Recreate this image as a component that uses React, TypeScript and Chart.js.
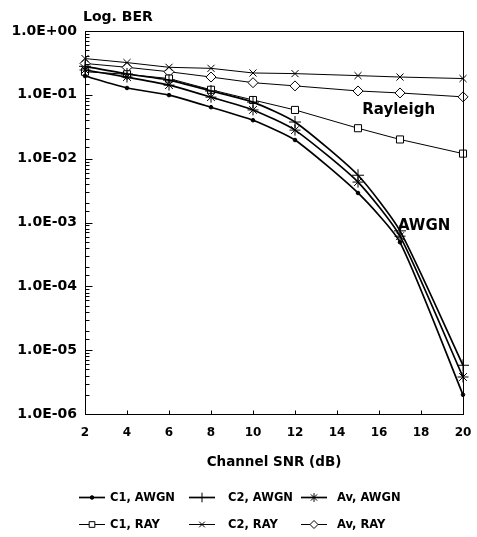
import React, { useEffect, useRef } from 'react';
import { Chart, registerables } from 'chart.js';
import { drawPoint } from 'chart.js/helpers';

Chart.register(...registerables);

// ---- data ----
const snr = [2, 4, 6, 8, 10, 12, 15, 17, 20];
const c1Awgn = [0.197, 0.128, 0.099, 0.064, 0.04, 0.0196, 0.0029, 0.00049, 0.000002];
const c2Awgn = [0.28, 0.212, 0.17, 0.115, 0.077, 0.0375, 0.0055, 0.00074, 0.0000058];
const avAwgn = [0.245, 0.19, 0.142, 0.092, 0.058, 0.028, 0.0043, 0.00061, 0.0000038];
const c1Ray = [0.23, 0.21, 0.18, 0.12, 0.083, 0.058, 0.03, 0.02, 0.012];
const c2Ray = [0.37, 0.32, 0.27, 0.26, 0.22, 0.215, 0.2, 0.19, 0.18];
const avRay = [0.31, 0.27, 0.23, 0.19, 0.155, 0.138, 0.115, 0.107, 0.093];
const seriesLabels = ['C1, AWGN', 'C2, AWGN', 'Av, AWGN', 'C1, RAY', 'C2, RAY', 'Av, RAY'];
const xMin = 2;
const xMax = 20;
const xStep = 2;
const yMin = 1e-6;
const yMax = 1;
const yTitle = 'Log. BER';
const xTitle = 'Channel SNR (dB)';
const notes = [
  { text: 'Rayleigh', x: 15.2, y: 0.058 },
  { text: 'AWGN', x: 16.9, y: 0.00088 },
];

const FONT = "'DejaVu Sans', sans-serif";

const pts = (ys: number[]) => snr.map((x, i) => ({ x, y: ys[i] }));

function fmtExp(v: number) {
  const e = Math.round(Math.log10(v));
  const m = v / Math.pow(10, e);
  const sign = e < 0 ? '-' : '+';
  const ee = String(Math.abs(e)).padStart(2, '0');
  return m.toFixed(1) + 'E' + sign + ee;
}
const isDecade = (v: number) => Math.abs(Math.log10(v) - Math.round(Math.log10(v))) < 1e-6;

const framePlugin = {
  id: 'frame',
  afterDraw(chart: any) {
    const { ctx, chartArea: a, scales } = chart;
    ctx.save();
    ctx.strokeStyle = '#000';
    ctx.lineWidth = 1;
    const L = Math.round(a.left) + 0.5;
    const R = Math.round(a.right) + 0.5;
    const T = Math.round(a.top) + 0.5;
    const B = Math.round(a.bottom) + 0.5;
    ctx.strokeRect(L, T, R - L, B - T);
    ctx.beginPath();
    for (const t of scales.y.ticks) {
      const py = Math.round(scales.y.getPixelForValue(t.value)) + 0.5;
      const len = isDecade(t.value) ? 7 : 4;
      ctx.moveTo(L, py);
      ctx.lineTo(L + len, py);
    }
    for (const t of scales.x.ticks) {
      const px = Math.round(scales.x.getPixelForValue(t.value)) + 0.5;
      ctx.moveTo(px, B);
      ctx.lineTo(px, B - 4);
    }
    ctx.stroke();

    ctx.fillStyle = '#000';
    ctx.font = `bold 14px ${FONT}`;
    ctx.textAlign = 'left';
    ctx.textBaseline = 'middle';
    ctx.fillText(yTitle, a.left - 2, 17);
    ctx.font = `bold 13.5px ${FONT}`;
    ctx.textAlign = 'center';
    ctx.fillText(xTitle, (a.left + a.right) / 2, 462);

    ctx.font = `bold 15px ${FONT}`;
    ctx.textAlign = 'left';
    for (const n of notes) {
      ctx.fillText(n.text, scales.x.getPixelForValue(n.x), scales.y.getPixelForValue(n.y));
    }

    // legend
    const colLine = [79, 189, 301];
    const colText = [110, 228, 337];
    const rows = [497, 524];
    chart.data.datasets.forEach((ds: any, i: number) => {
      const c = i % 3;
      const r = Math.floor(i / 3);
      const y = rows[r];
      ctx.strokeStyle = '#000';
      ctx.lineWidth = ds.borderWidth;
      ctx.beginPath();
      ctx.moveTo(colLine[c], y + 0.5);
      ctx.lineTo(colLine[c] + 26, y + 0.5);
      ctx.stroke();
      ctx.fillStyle = ds.pointBackgroundColor;
      ctx.strokeStyle = '#000';
      ctx.lineWidth = ds.pointBorderWidth;
      const rad = ds.pointRadius > 3 ? ds.pointRadius * 0.8 : ds.pointRadius;
      drawPoint(ctx, { pointStyle: ds.pointStyle, radius: rad, rotation: 0, borderWidth: ds.pointBorderWidth }, colLine[c] + 13, y + 0.5);
      ctx.fillStyle = '#000';
      ctx.font = `bold 11.5px ${FONT}`;
      ctx.textAlign = 'left';
      ctx.textBaseline = 'middle';
      ctx.fillText(ds.label, colText[c], y + 1);
    });
    ctx.restore();
  },
};

export default function App() {
  const ref = useRef<HTMLCanvasElement | null>(null);
  useEffect(() => {
    document.body.style.margin = '0';
    const canvas = ref.current;
    if (!canvas) return;
    const awgnBase = {
      borderColor: '#000',
      borderWidth: 1.7,
      tension: 0.2,
      pointBorderColor: '#000',
      pointBorderWidth: 1,
      clip: false as const,
    };
    const rayBase = {
      borderColor: '#000',
      borderWidth: 1,
      tension: 0,
      pointBorderColor: '#000',
      pointBorderWidth: 1,
      clip: false as const,
    };
    const chart = new Chart(canvas, {
      type: 'line',
      data: {
        datasets: [
          { ...awgnBase, label: seriesLabels[0], data: pts(c1Awgn), pointStyle: 'circle', pointRadius: 1.8, pointBackgroundColor: '#000' },
          { ...awgnBase, label: seriesLabels[1], data: pts(c2Awgn), pointStyle: 'cross', pointRadius: 6, pointBackgroundColor: '#000' },
          { ...awgnBase, label: seriesLabels[2], data: pts(avAwgn), pointStyle: 'star', pointRadius: 5.5, pointBackgroundColor: '#000' },
          { ...rayBase, label: seriesLabels[3], data: pts(c1Ray), pointStyle: 'rect', pointRadius: 5, pointBackgroundColor: '#fff' },
          { ...rayBase, label: seriesLabels[4], data: pts(c2Ray), pointStyle: 'crossRot', pointRadius: 5, pointBackgroundColor: '#000' },
          { ...rayBase, label: seriesLabels[5], data: pts(avRay), pointStyle: 'rectRot', pointRadius: 5, pointBackgroundColor: '#fff' },
        ] as any,
      },
      options: {
        animation: false,
        responsive: false,
        devicePixelRatio: 1,
        layout: { padding: { top: 31, right: 14, left: 0, bottom: 0 } },
        plugins: { legend: { display: false }, tooltip: { enabled: false }, title: { display: false } },
        scales: {
          x: {
            type: 'linear',
            min: xMin,
            max: xMax,
            grid: { display: false, drawTicks: false },
            border: { display: false },
            ticks: {
              stepSize: xStep,
              padding: 5,
              color: '#000',
              font: { family: FONT, size: 12, weight: 'bold', lineHeight: 2.33 },
              maxRotation: 0,
            },
            afterFit: (s: any) => { s.height = 123; },
          },
          y: {
            type: 'logarithmic',
            min: yMin,
            max: yMax,
            grid: { display: false, drawTicks: false },
            border: { display: false },
            ticks: {
              autoSkip: false,
              padding: 8,
              color: '#000',
              font: { family: FONT, size: 14, weight: 'bold' },
              callback: (v: any) => (isDecade(Number(v)) ? fmtExp(Number(v)) : ''),
            },
            afterFit: (s: any) => { s.width = 85; },
          },
        },
      },
      plugins: [framePlugin],
    });
    return () => chart.destroy();
  }, []);
  return (
    <div style={{ width: 477, height: 537, background: '#fff' }}>
      <canvas ref={ref} width={477} height={537} />
    </div>
  );
}
